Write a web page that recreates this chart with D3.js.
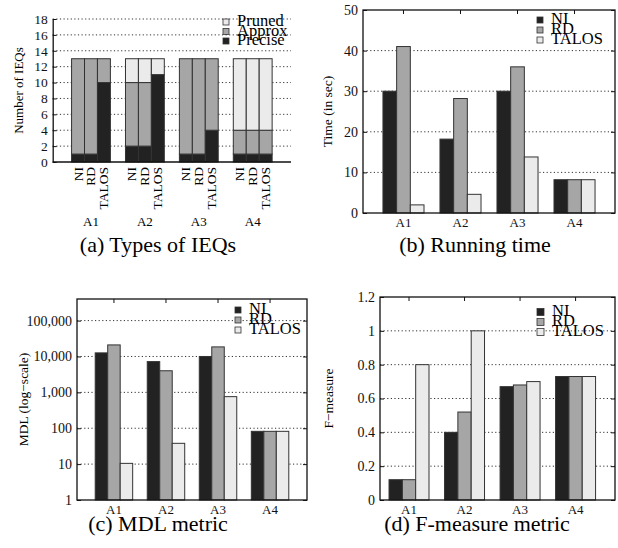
<!DOCTYPE html>
<html>
<head>
<meta charset="utf-8">
<script src="https://cdn.jsdelivr.net/npm/d3@7"></script>
<style>
  body { margin: 0; background: #fff; }
  svg text { font-family: "Liberation Serif", "Times New Roman", Times, serif; }
</style>
</head>
<body>
<script>
// categories
var groups = ['A1', 'A2', 'A3', 'A4'];
var methods = ['NI', 'RD', 'TALOS'];
var ieqTypes = ['Pruned', 'Approx', 'Precise'];

// (a) number of IEQs, per group: [NI, RD, TALOS]
var precise = [[1, 1, 10], [2, 2, 11], [1, 1, 4], [1, 1, 1]];
var approx  = [[12, 12, 3], [8, 8, 0], [12, 12, 9], [3, 3, 3]];
var pruned  = [[0, 0, 0], [3, 3, 2], [0, 0, 0], [9, 9, 9]];

// (b) running time in sec
var timeNI    = [30, 18.2, 30, 8.2];
var timeRD    = [41, 28.2, 36, 8.2];
var timeTALOS = [2, 4.6, 13.8, 8.2];

// (c) MDL
var mdlNI    = [12600, 7200, 10000, 82];
var mdlRD    = [21000, 4000, 18500, 82];
var mdlTALOS = [10.5, 38, 760, 82];

// (d) F-measure
var fNI    = [0.12, 0.40, 0.67, 0.73];
var fRD    = [0.12, 0.52, 0.68, 0.73];
var fTALOS = [0.80, 1.00, 0.70, 0.73];

// tick values
var ticksA = [0, 2, 4, 6, 8, 10, 12, 14, 16, 18];
var ticksB = [0, 10, 20, 30, 40, 50];
var ticksC = [1, 10, 100, 1000, 10000, 100000];
var ticksD = [0, 0.2, 0.4, 0.6, 0.8, 1, 1.2];

var dark = '#222', mid = '#a6a6a6', light = '#ebebeb', edge = '#333';
var methodColor = d3.scaleOrdinal().domain(methods).range([dark, mid, light]);
var typeColor = d3.scaleOrdinal().domain(ieqTypes).range([light, mid, dark]);

var svg = d3.select('body').append('svg').attr('width', 618).attr('height', 548);

function grid(g, y, vals, x0, x1) {
    g.selectAll('line.grid').data(vals).enter().append('line')
        .attr('class', 'grid')
        .attr('x1', x0).attr('x2', x1)
        .attr('y1', function(d) { return y(d); })
        .attr('y2', function(d) { return y(d); })
        .attr('stroke', '#333')
        .attr('stroke-width', 1)
        .attr('stroke-dasharray', '1.2,2.4');
}

function legend(g, names, colors, x, y, dy, size) {
    var items = g.selectAll('g.leg').data(names).enter().append('g')
        .attr('class', 'leg')
        .attr('transform', function(d, i) { return 'translate(' + x + ',' + (y + i * dy) + ')'; });
    items.append('rect')
        .attr('x', 0).attr('y', -size / 2)
        .attr('width', size).attr('height', size)
        .attr('fill', function(d) { return colors(d); })
        .attr('stroke', edge).attr('stroke-width', 0.8);
    items.append('text')
        .attr('x', size + 8).attr('y', 4)
        .attr('font-size', 16.5)
        .text(function(d) { return d; });
}

function styleAxis(a, size) {
    a.attr('font-family', null).attr('font-size', null);
    a.selectAll('.tick line').attr('stroke', '#111');
    a.selectAll('.tick text').attr('font-size', size).attr('fill', '#111');
}

// ---------- (a) Types of IEQs ----------
(function() {
    var L = 52.7, R = 291, T = 19, B = 162;
    var g = svg.append('g');
    var x0 = d3.scaleBand().domain(groups).range([L, R]).paddingInner(0.28).paddingOuter(0.35);
    var x1 = d3.scaleBand().domain(methods).range([0, x0.bandwidth()]);
    var y = d3.scaleLinear().domain([0, 18]).range([B, T]);

    grid(g, y, ticksA.slice(1), L, R);

    var rows = [];
    groups.forEach(function(grp, gi) {
        methods.forEach(function(m, mi) {
            var p = precise[gi][mi], a = approx[gi][mi], r = pruned[gi][mi];
            rows.push({ g: grp, m: m, type: 'Precise', y0: 0, y1: p });
            rows.push({ g: grp, m: m, type: 'Approx', y0: p, y1: p + a });
            rows.push({ g: grp, m: m, type: 'Pruned', y0: p + a, y1: p + a + r });
        });
    });
    g.selectAll('rect.seg').data(rows.filter(function(d) { return d.y1 > d.y0; })).enter().append('rect')
        .attr('class', 'seg')
        .attr('x', function(d) { return x0(d.g) + x1(d.m); })
        .attr('y', function(d) { return y(d.y1); })
        .attr('width', x1.bandwidth())
        .attr('height', function(d) { return y(d.y0) - y(d.y1); })
        .attr('fill', function(d) { return typeColor(d.type); })
        .attr('stroke', edge).attr('stroke-width', 1);

    var ya = g.append('g').attr('transform', 'translate(' + L + ',0)')
        .call(d3.axisLeft(y).tickValues(ticksA).tickSize(-4).tickPadding(5).tickSizeOuter(0));
    ya.select('.domain').attr('stroke', '#111').attr('stroke-width', 1.3);
    styleAxis(ya, 13.5);
    g.append('line').attr('x1', L).attr('x2', R).attr('y1', B).attr('y2', B)
        .attr('stroke', '#111').attr('stroke-width', 1.5);

    // rotated method labels
    var labs = [];
    groups.forEach(function(grp) { methods.forEach(function(m) { labs.push({ g: grp, m: m }); }); });
    g.selectAll('text.mlab').data(labs).enter().append('text')
        .attr('class', 'mlab')
        .attr('transform', function(d) {
            return 'translate(' + (x0(d.g) + x1(d.m) + x1.bandwidth() / 2 + 4.5) + ',' + (B + 5) + ') rotate(-90)';
        })
        .attr('text-anchor', 'end')
        .attr('font-size', 13.5)
        .text(function(d) { return d.m; });
    g.selectAll('text.glab').data(groups).enter().append('text')
        .attr('class', 'glab')
        .attr('x', function(d) { return x0(d) + x0.bandwidth() / 2; })
        .attr('y', 226)
        .attr('text-anchor', 'middle')
        .attr('font-size', 13)
        .text(function(d) { return d; });

    g.append('text').attr('transform', 'translate(23,' + ((T + B) / 2) + ') rotate(-90)')
        .attr('text-anchor', 'middle').attr('font-size', 13).text('Number of IEQs');
    legend(g, ieqTypes, typeColor, 223, 22, 9.5, 6);
    g.append('text').attr('x', 158).attr('y', 252).attr('text-anchor', 'middle')
        .attr('font-size', 22).text('(a) Types of IEQs');
})();

// ---------- grouped bar panels (b), (c), (d) ----------
function barPanel(o) {
    var g = svg.append('g');
    var x0 = d3.scaleBand().domain(groups).range([o.xs, o.R]).paddingInner(0.28).paddingOuter(0.35);
    var x1 = d3.scaleBand().domain(methods).range([0, x0.bandwidth()]);
    var y = o.y;

    grid(g, y, o.gridVals, o.L, o.R);

    var rows = [];
    groups.forEach(function(grp, gi) {
        methods.forEach(function(m, mi) { rows.push({ g: grp, m: m, v: o.series[mi][gi] }); });
    });
    g.selectAll('rect.bar').data(rows).enter().append('rect')
        .attr('class', 'bar')
        .attr('x', function(d) { return x0(d.g) + x1(d.m); })
        .attr('y', function(d) { return y(d.v); })
        .attr('width', x1.bandwidth())
        .attr('height', function(d) { return o.B - y(d.v); })
        .attr('fill', function(d) { return methodColor(d.m); })
        .attr('stroke', edge).attr('stroke-width', 1);

    var yl = g.append('g').attr('transform', 'translate(' + o.L + ',0)')
        .call(d3.axisLeft(y).tickValues(o.ticks).tickFormat(o.fmt).tickSize(-4).tickPadding(5).tickSizeOuter(0));
    var yr = g.append('g').attr('transform', 'translate(' + o.R + ',0)')
        .call(d3.axisRight(y).tickValues(o.ticks).tickFormat('').tickSize(-4).tickSizeOuter(0));
    var xb = g.append('g').attr('transform', 'translate(0,' + o.B + ')')
        .call(d3.axisBottom(x0).tickSize(0).tickPadding(4.5).tickSizeOuter(0));
    var xt = g.append('g').attr('transform', 'translate(0,' + o.T + ')')
        .call(d3.axisTop(x0).tickSize(-4).tickFormat('').tickSizeOuter(0));
    [yl, yr, xb, xt].forEach(function(a) {
        a.select('.domain').remove();
        styleAxis(a, 14);
    });
    xb.selectAll('.tick text').attr('font-size', 13);
    g.append('rect').attr('x', o.L).attr('y', o.T).attr('width', o.R - o.L).attr('height', o.B - o.T)
        .attr('fill', 'none').attr('stroke', '#111').attr('stroke-width', 1.3);

    g.append('text').attr('transform', 'translate(' + o.tx + ',' + ((o.T + o.B) / 2) + ') rotate(-90)')
        .attr('text-anchor', 'middle').attr('font-size', 13.5).text(o.title);
    legend(g, methods, methodColor, o.lx, o.ly, 10, o.ls);
    g.append('text').attr('x', o.cx).attr('y', o.cy).attr('text-anchor', 'middle')
        .attr('font-size', 22).text(o.caption);
}

barPanel({
    L: 363, R: 615, T: 10, B: 213, xs: 363,
    y: d3.scaleLinear().domain([0, 50]).range([213, 10]),
    ticks: ticksB, gridVals: [10, 20, 30, 40], fmt: d3.format('d'),
    series: [timeNI, timeRD, timeTALOS],
    title: 'Time (in sec)', tx: 332,
    lx: 537, ly: 20, ls: 6,
    caption: '(b) Running time', cx: 475, cy: 252
});

barPanel({
    L: 77, R: 307, T: 299, B: 500, xs: 77,
    y: d3.scaleLog().domain([1, 400000]).range([500, 299]),
    ticks: ticksC, gridVals: [10, 100, 1000, 10000, 100000], fmt: d3.format(','),
    series: [mdlNI, mdlRD, mdlTALOS],
    title: 'MDL (log\u2212scale)', tx: 28,
    lx: 235, ly: 310, ls: 6,
    caption: '(c) MDL metric', cx: 158, cy: 531
});

barPanel({
    L: 380, R: 615, T: 297, B: 500, xs: 369.6,
    y: d3.scaleLinear().domain([0, 1.2]).range([500, 297]),
    ticks: ticksD, gridVals: [0.2, 0.4, 0.6, 0.8, 1], fmt: d3.format(''),
    series: [fNI, fRD, fTALOS],
    title: 'F\u2212measure', tx: 333,
    lx: 537, ly: 312, ls: 7,
    caption: '(d) F-measure metric', cx: 477, cy: 531
});
</script>
</body>
</html>
